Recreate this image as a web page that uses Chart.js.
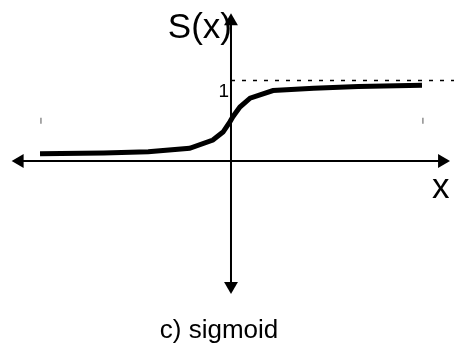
<!DOCTYPE html>
<html>
<head>
<meta charset="utf-8">
<script src="https://cdn.jsdelivr.net/npm/chart.js@4/dist/chart.umd.min.js"></script>
<style>
  body { margin: 0; background: #fff; }
  #wrap { width: 454px; height: 346px; }
</style>
</head>
<body>
<div id="wrap"><canvas id="grafico"></canvas></div>
<script>
// curva sigmoide
const sigX = [-6, -4, -2.6, -1.3, -0.57, -0.25, -0.03, 0.06, 0.28, 0.6, 1.32, 2.6, 4, 6];
const sigY = [0.09, 0.10, 0.115, 0.158, 0.26, 0.36, 0.49, 0.55, 0.67, 0.78, 0.875, 0.905, 0.925, 0.94];
// ejes con flechas
const ejeX = [-6.64, 6.63];
const ejeY = [-1.553, 1.735];
// asintota S = 1 y marcas en S = 0.5
const asintotaX = [0, 7.1];
const asintotaY = 1;
const marcasX = [-5.97, 6.03];
const marcasY = 0.5;
const textos = { eje: "S(x)", var: "x", uno: "1", titulo: "c) sigmoid" };

document.addEventListener("DOMContentLoaded", () => {
    const ctx = document.getElementById('grafico').getContext('2d');

    const etiquetas = {
        id: 'etiquetas',
        afterDraw(chart) {
            const c = chart.ctx;
            const sx = chart.scales.x, sy = chart.scales.y;
            const x0 = sx.getPixelForValue(0), y0 = sy.getPixelForValue(0), y1 = sy.getPixelForValue(1);
            c.save();
            c.fillStyle = '#000';
            c.textBaseline = 'alphabetic';
            c.font = '35px "Liberation Sans", Arial, sans-serif';
            c.textAlign = 'right';
            c.fillText(textos.eje, x0 + 1, 38);
            c.textAlign = 'left';
            c.fillText(textos.var, 432, y0 + 37);
            c.font = '19px "Liberation Sans", Arial, sans-serif';
            c.textAlign = 'right';
            c.fillText(textos.uno, x0 - 2, y1 + 16);
            c.font = '26px "Liberation Sans", Arial, sans-serif';
            c.textAlign = 'center';
            c.fillText(textos.titulo, 219, 338);
            c.restore();
        }
    };

    new Chart(ctx, {
        type: 'scatter',
        data: {
            datasets: [
                {
                    label: 'S(x)',
                    data: sigX.map((x, i) => ({ x: x, y: sigY[i] })),
                    showLine: true,
                    borderColor: '#000',
                    borderWidth: 5,
                    pointRadius: 0,
                    tension: 0,
                    clip: false
                },
                {
                    label: 'eje x',
                    data: ejeX.map(x => ({ x: x, y: 0 })),
                    showLine: true,
                    borderColor: '#000',
                    borderWidth: 2,
                    pointStyle: 'triangle',
                    pointRadius: 8,
                    pointBorderWidth: 0,
                    pointBackgroundColor: '#000',
                    pointRotation: [270, 90],
                    clip: false
                },
                {
                    label: 'eje y',
                    data: ejeY.map(y => ({ x: 0, y: y })),
                    showLine: true,
                    borderColor: '#000',
                    borderWidth: 2,
                    pointStyle: 'triangle',
                    pointRadius: 8,
                    pointBorderWidth: 0,
                    pointBackgroundColor: '#000',
                    pointRotation: [180, 0],
                    clip: false
                },
                {
                    label: 'asintota',
                    data: asintotaX.map(x => ({ x: x, y: asintotaY })),
                    showLine: true,
                    borderColor: '#000',
                    borderWidth: 1.5,
                    borderDash: [4, 7],
                    pointRadius: 0,
                    clip: false
                },
                {
                    label: 'marcas',
                    data: marcasX.map(x => ({ x: x, y: marcasY })),
                    showLine: false,
                    pointStyle: 'line',
                    pointRotation: 90,
                    pointRadius: 3,
                    pointBorderWidth: 1,
                    pointBorderColor: '#555',
                    clip: false
                }
            ]
        },
        options: {
            responsive: true,
            maintainAspectRatio: false,
            animation: false,
            events: [],
            layout: { padding: 0, autoPadding: false },
            plugins: {
                legend: { display: false },
                tooltip: { enabled: false }
            },
            scales: {
                x: { type: 'linear', min: -7.257, max: 7.006, display: false },
                y: { type: 'linear', min: -2.298, max: 2.0, display: false }
            }
        },
        plugins: [etiquetas]
    });
});
</script>
</body>
</html>
